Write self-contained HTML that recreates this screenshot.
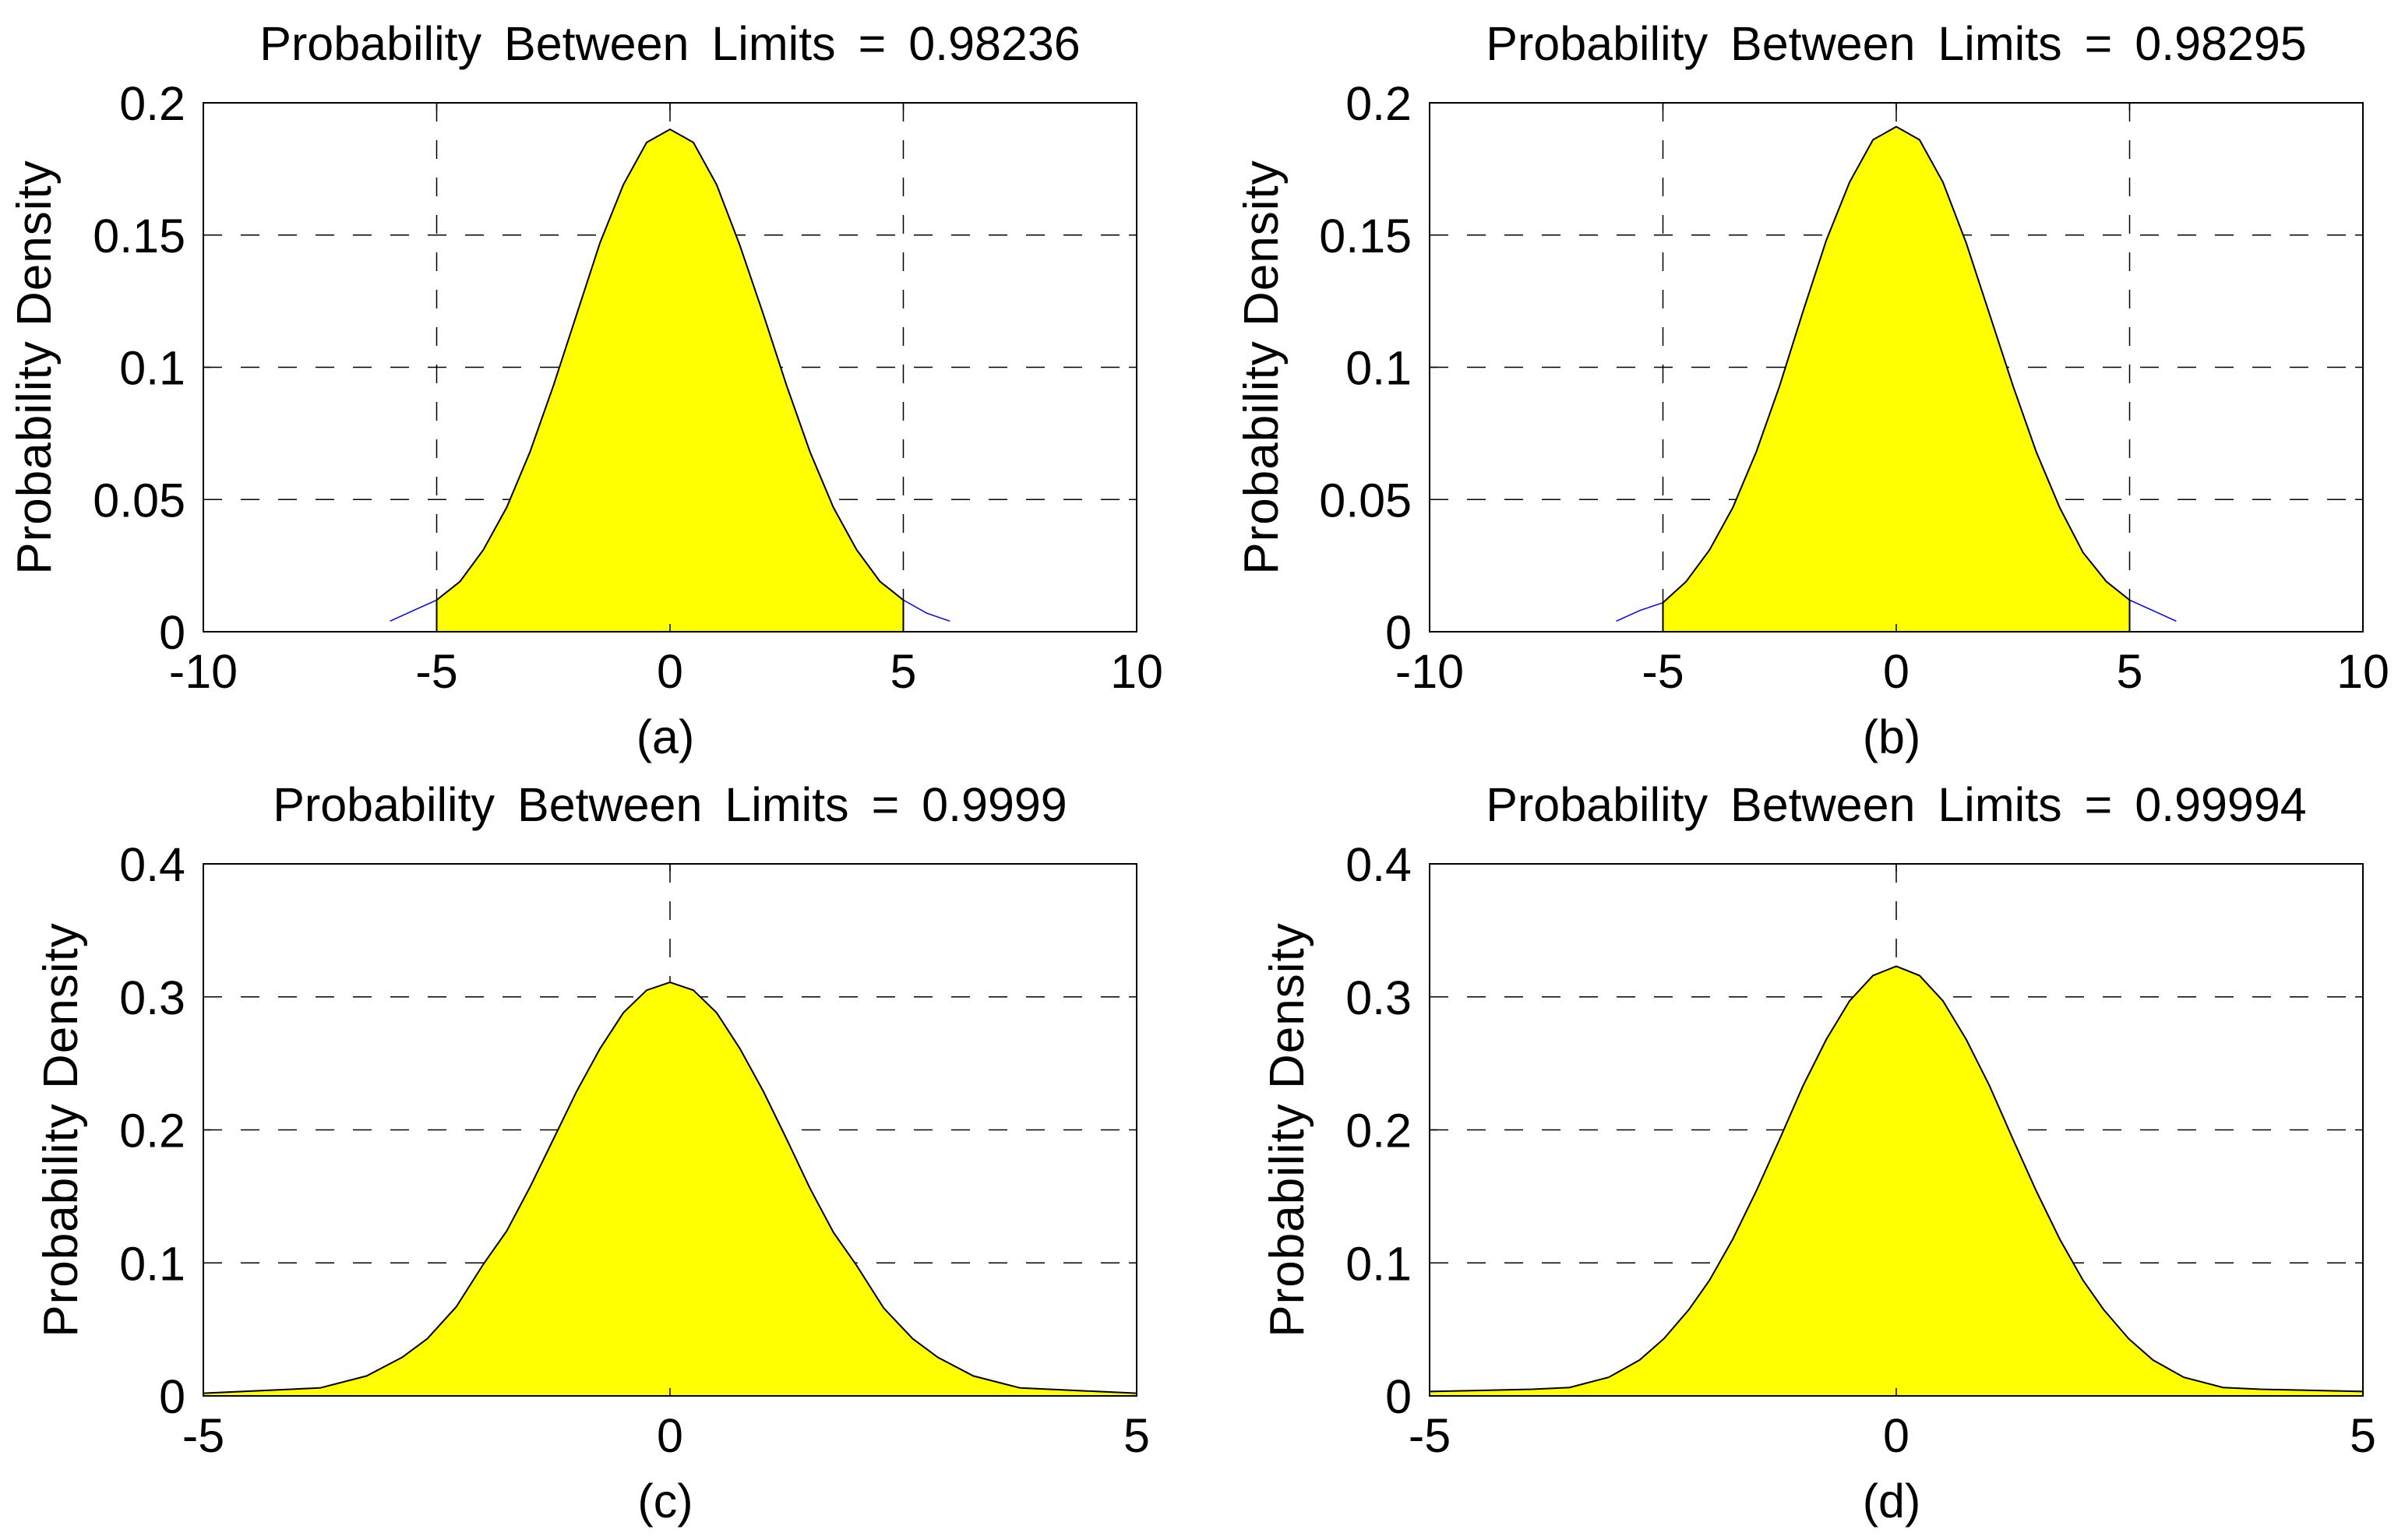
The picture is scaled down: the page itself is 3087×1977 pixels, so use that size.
<!DOCTYPE html>
<html><head><meta charset="utf-8"><style>
html,body{margin:0;padding:0;background:#fff;}
svg{display:block;}
text{font-family:"Liberation Sans",Arial,sans-serif;fill:#000;}
</style></head><body>
<svg id="fig" xmlns="http://www.w3.org/2000/svg" width="3087" height="1977" viewBox="0 0 3087 1977"></svg>
<script>
// ---- data ----
const xA = [-6,-5.5,-5,-4.5,-4,-3.5,-3,-2.5,-2,-1.5,-1,-0.5,0,0.5,1,1.5,2,2.5,3,3.5,4,4.5,5,5.5,6];
const yA = [0.004,0.008,0.012,0.019,0.031,0.047,0.068,0.093,0.120,0.147,0.169,0.185,0.190,0.185,0.169,0.146,0.120,0.093,0.068,0.047,0.031,0.019,0.012,0.007,0.004];
const xB = [-6,-5.5,-5,-4.5,-4,-3.5,-3,-2.5,-2,-1.5,-1,-0.5,0,0.5,1,1.5,2,2.5,3,3.5,4,4.5,5,5.5,6];
const yB = [0.004,0.008,0.011,0.019,0.031,0.047,0.068,0.093,0.121,0.148,0.170,0.186,0.191,0.186,0.170,0.147,0.120,0.093,0.068,0.047,0.030,0.019,0.012,0.008,0.004];
const xC = [-5,-3.75,-3.25,-2.87,-2.6,-2.29,-2,-1.75,-1.5,-1.25,-1,-0.75,-0.5,-0.25,0,0.25,0.5,0.75,1,1.25,1.5,1.75,2,2.29,2.6,2.87,3.25,3.75,5];
const yC = [0.002,0.006,0.015,0.029,0.043,0.067,0.099,0.124,0.157,0.193,0.229,0.261,0.288,0.305,0.311,0.305,0.288,0.261,0.229,0.193,0.156,0.123,0.098,0.066,0.043,0.029,0.015,0.006,0.002];
const xD = [-5,-3.9,-3.5,-3.08,-2.75,-2.49,-2.22,-2,-1.75,-1.5,-1.25,-1,-0.75,-0.5,-0.25,0,0.25,0.5,0.75,1,1.25,1.5,1.75,2,2.22,2.49,2.75,3.08,3.5,3.9,5];
const yD = [0.0033,0.005,0.0063,0.014,0.027,0.043,0.065,0.087,0.118,0.154,0.193,0.233,0.268,0.297,0.316,0.323,0.316,0.297,0.268,0.233,0.193,0.154,0.118,0.087,0.065,0.043,0.027,0.014,0.0063,0.005,0.0033];
const xTicksTop = [-10,-5,0,5,10];
const yTicksTop = [0,0.05,0.1,0.15,0.2];
const yTickLabelsTop = ["0","0.05","0.1","0.15","0.2"];
const xTicksBot = [-5,0,5];
const yTicksBot = [0,0.1,0.2,0.3,0.4];
const yTickLabelsBot = ["0","0.1","0.2","0.3","0.4"];
const titles = ["Probability Between Limits = 0.98236","Probability Between Limits = 0.98295","Probability Between Limits = 0.9999","Probability Between Limits = 0.99994"];
const tags = ["(a)","(b)","(c)","(d)"];

const NS="http://www.w3.org/2000/svg";
const svg=document.getElementById('fig');
function mk(tag,attrs,parent){const e=document.createElementNS(NS,tag);for(const k in attrs)e.setAttribute(k,attrs[k]);(parent||svg).appendChild(e);return e;}

const panels=[
 {L:261,T:132,R:1459,B:811,xmin:-10,xmax:10,ymax:0.2,xs:xA,ys:yA,xt:xTicksTop,yt:yTicksTop,ytl:yTickLabelsTop,lim:[-5,5],ylx:65,id:'a'},
 {L:1835,T:132,R:3033,B:811,xmin:-10,xmax:10,ymax:0.2,xs:xB,ys:yB,xt:xTicksTop,yt:yTicksTop,ytl:yTickLabelsTop,lim:[-5,5],ylx:1640,id:'b'},
 {L:261,T:1109,R:1459,B:1792,xmin:-5,xmax:5,ymax:0.4,xs:xC,ys:yC,xt:xTicksBot,yt:yTicksBot,ytl:yTickLabelsBot,lim:[-5,5],ylx:99,id:'c'},
 {L:1835,T:1109,R:3033,B:1792,xmin:-5,xmax:5,ymax:0.4,xs:xD,ys:yD,xt:xTicksBot,yt:yTicksBot,ytl:yTickLabelsBot,lim:[-5,5],ylx:1673,id:'d'}
];

panels.forEach((p,i)=>{
  const g=mk('g',{});
  
  
  const sx=v=>p.L+(v-p.xmin)/(p.xmax-p.xmin)*(p.R-p.L);
  const sy=v=>p.B-v/p.ymax*(p.B-p.T);
  p.yt.forEach(v=>{ if(v>0 && v<p.ymax){
    const l=mk('line',{x1:p.L,x2:p.R,y1:sy(v),y2:sy(v),stroke:'#000','stroke-width':1.5,'stroke-dasharray':'24 24'},g);
    
    
  }});
  p.xt.forEach(v=>{ if(v>p.xmin && v<p.xmax){
    const l=mk('line',{x1:sx(v),x2:sx(v),y1:p.T,y2:p.B,stroke:'#000','stroke-width':1.5,'stroke-dasharray':'24 24'},g);
    
    
  }});
  const pts=p.xs.map((x,k)=>sx(x).toFixed(1)+','+sy(p.ys[k]).toFixed(1)).join(' ');
  const bl=mk('polyline',{points:pts,fill:'none',stroke:'#0000ff','stroke-width':1.5},g);
  
  
  const inside=[];
  p.xs.forEach((x,k)=>{ if(x>=p.lim[0]-1e-9 && x<=p.lim[1]+1e-9) inside.push([sx(x),sy(p.ys[k])]); });
  let d='M'+inside[0][0]+','+p.B;
  inside.forEach(q=>{d+=' L'+q[0].toFixed(1)+','+q[1].toFixed(1);});
  d+=' L'+inside[inside.length-1][0]+','+p.B+' Z';
  const ar=mk('path',{d:d,fill:'#ffff00',stroke:'#000','stroke-width':2},g);
  
  
  const bz=mk('line',{x1:p.L,x2:p.R,y1:p.B,y2:p.B,stroke:'#0000ff','stroke-width':2},g);
  
  
  const bx=mk('rect',{x:p.L,y:p.T,width:p.R-p.L,height:p.B-p.T,fill:'none',stroke:'#000','stroke-width':2},g);
  
  
  p.yt.forEach((v,k)=>{
    mk('line',{x1:p.L,x2:p.L+10,y1:sy(v),y2:sy(v),stroke:'#000','stroke-width':1.5},g);
    mk('line',{x1:p.R,x2:p.R-10,y1:sy(v),y2:sy(v),stroke:'#000','stroke-width':1.5},g);
    const t=mk('text',{x:p.L-23,y:sy(v)+22,'text-anchor':'end','font-size':61},g);
    t.textContent=p.ytl[k];
    
    
  });
  p.xt.forEach(v=>{
    mk('line',{x1:sx(v),x2:sx(v),y1:p.B,y2:p.B-10,stroke:'#000','stroke-width':1.5},g);
    mk('line',{x1:sx(v),x2:sx(v),y1:p.T,y2:p.T+10,stroke:'#000','stroke-width':1.5},g);
    const t=mk('text',{x:sx(v),y:p.B+72,'text-anchor':'middle','font-size':61},g);
    t.textContent=String(v);
    
    
  });
  const cx=(p.L+p.R)/2, cy=(p.T+p.B)/2;
  const tt=mk('text',{x:cx,y:p.T-55,'text-anchor':'middle','font-size':61,'word-spacing':'12px'},g);
  tt.textContent=titles[i];
  
  
  const yl=mk('text',{x:p.ylx,y:cy,'text-anchor':'middle','font-size':62,'letter-spacing':'1px',transform:'rotate(-90 '+p.ylx+' '+cy+')'},g);
  yl.textContent='Probability Density';
  
  
  const tg=mk('text',{x:cx-6,y:p.B+156,'text-anchor':'middle','font-size':61},g);
  tg.textContent=tags[i];
  
  
});
</script>
</body></html>
